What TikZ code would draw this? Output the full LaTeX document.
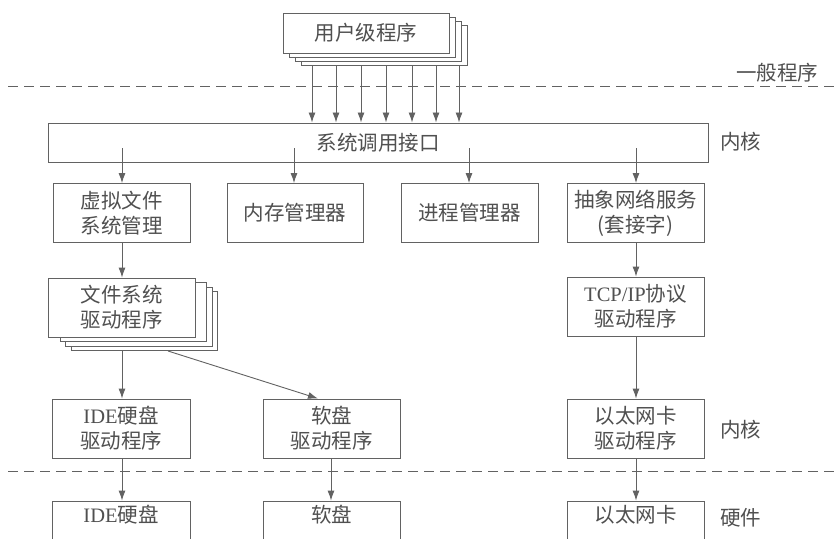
\documentclass[tikz,border=0pt]{standalone}
\usepackage{fontspec}
\setmainfont{Liberation Serif}
\newfontfamily\cjk{Noto Sans CJK SC}
\usetikzlibrary{arrows.meta}
\definecolor{ln}{HTML}{626262}
\definecolor{tx}{HTML}{505050}
\tikzset{
  boxnode/.style={draw=ln, line width=0.9pt, fill=white, align=center, inner sep=0pt,
    text=tx, font=\fontsize{20.5}{25}\selectfont\cjk, minimum height=59pt, minimum width=137pt},
  arr/.style={draw=ln, line width=0.9pt, -{Latex[length=10pt,width=7pt]}},
  sepline/.style={draw=ln, line width=0.9pt, dash pattern=on 10pt off 6pt},
  lbl/.style={text=tx, font=\fontsize{20.5}{24}\selectfont\cjk, inner sep=0pt},
  shadowbox/.style={draw=ln, line width=0.9pt, fill=white}
}
\newcommand{\lat}[1]{{\fontspec{Liberation Serif}#1}}
\begin{document}
\begin{tikzpicture}[x=1pt,y=-1pt]
\clip (0,0) rectangle (837,538);
\fill[white] (0,0) rectangle (837,538);
% separator lines
\draw[sepline] (8,86) -- (837,86);
\draw[sepline] (8,471) -- (837,471);
% user programs stack
\foreach \d in {3,2,1}{
  \draw[shadowbox] (283+6*\d,13+4*\d) rectangle ++(166,40);
}
\node[boxnode, minimum width=166pt, minimum height=40pt] (user) at (366,33) {用户级程序};
% system call interface
\node[boxnode, minimum width=660pt, minimum height=39pt] (sys) at (378,142.5) {系统调用接口};
\foreach \x in {312,336,361,386,412,436,459}{
  \draw[arr] (\x,65) -- (\x,122.5);
}
% row 2
\node[boxnode] (vfs) at (121.5,213) {虚拟文件\\系统管理};
\node[boxnode, minimum width=136pt] (mem) at (295,213) {内存管理器};
\node[boxnode] (proc) at (469.5,213) {进程管理器};
\node[boxnode] (net) at (635.5,213) {抽象网络服务\\(套接字)};
\coordinate (s1) at (122,148);
\coordinate (s2) at (294,148);
\coordinate (s3) at (469,148);
\coordinate (s4) at (636,148);
\draw[arr] (s1) -- (s1 |- vfs.north);
\draw[arr] (s2) -- (s2 |- mem.north);
\draw[arr] (s3) -- (s3 |- proc.north);
\draw[arr] (s4) -- (s4 |- net.north);
% row 3
\draw[shadowbox] (71,291) rectangle (217,350);
\draw[shadowbox] (65,287) rectangle (212,346);
\draw[shadowbox] (60,282) rectangle (206,341);
\node[boxnode, minimum width=147pt] (fsd) at (121.5,307.5) {文件系统\\驱动程序};
\node[boxnode] (tcp) at (635.5,306.5) {\lat{TCP/IP}协议\\驱动程序};
\coordinate (fsdb) at (122,350);
\coordinate (fsdr) at (168,351);
\draw[arr] (vfs.south -| fsdb) -- (fsd.north -| fsdb);
\draw[arr] (net.south -| s4) -- (tcp.north -| s4);
% row 4
\node[boxnode, minimum width=138pt] (ided) at (121,428.5) {\lat{IDE}硬盘\\驱动程序};
\node[boxnode] (fdd) at (331.5,428.5) {软盘\\驱动程序};
\node[boxnode] (ethd) at (635.5,428.5) {以太网卡\\驱动程序};
\draw[arr] (fsdb) -- (fsdb |- ided.north);
\draw[arr] (fsdr) -- (fdd.north -| 318,0);
\draw[arr] (tcp.south -| s4) -- (ethd.north -| s4);
% row 5
\node[boxnode, minimum width=138pt] (ide) at (121,530.5) {\lat{IDE}硬盘\\\strut};
\node[boxnode] (fd) at (331.5,530.5) {软盘\\\strut};
\node[boxnode] (eth) at (635.5,530.5) {以太网卡\\\strut};
\draw[arr] (ided.south -| fsdb) -- (ide.north -| fsdb);
\draw[arr] (fdd.south -| 331,0) -- (fd.north -| 331,0);
\draw[arr] (ethd.south -| s4) -- (eth.north -| s4);
% labels
\node[lbl, anchor=west] (l1) at (736,73) {一般程序};
\node[lbl, anchor=west] (l2) at (720,142) {内核};
\node[lbl, anchor=west] (l3) at (720,430) {内核};
\node[lbl, anchor=west] (l4) at (720,518) {硬件};
\end{tikzpicture}
\end{document}
